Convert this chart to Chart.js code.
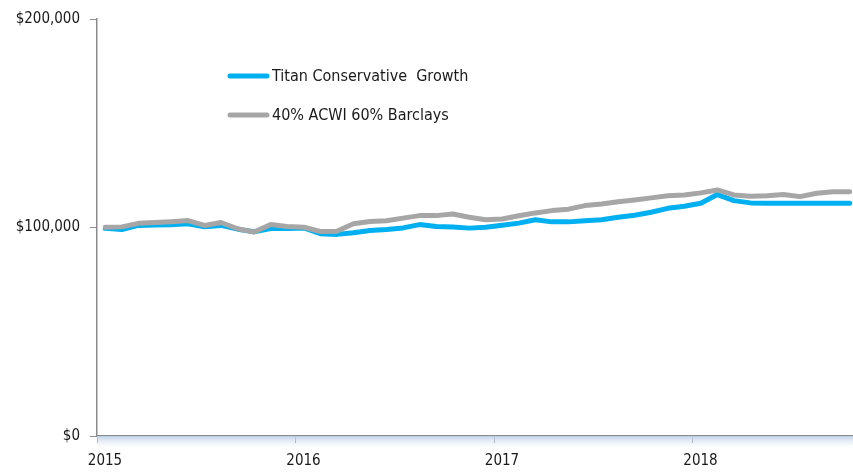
<!DOCTYPE html>
<html>
<head>
<meta charset="utf-8">
<script src="https://cdn.jsdelivr.net/npm/chart.js@4"></script>
<style>
  html, body { margin: 0; padding: 0; background: #fff; }
  #wrap { width: 853px; height: 472px; }
</style>
</head>
<body>
<div id="wrap"><canvas id="myChart"></canvas></div>
<script>
// monthly values, Jan 2015 .. Oct 2018
var titan = [99600, 99000, 101000, 101200, 101300, 101800, 100300, 101000, 99200, 98000, 99500, 99500,
             99800, 97000, 96700, 97500, 98600, 99000, 99800, 101400, 100500, 100200, 99700, 100100,
             101100, 102100, 103700, 102700, 102700, 103200, 103700, 104900, 105900, 107300, 109200, 110200,
             111600, 115800, 112900, 111800, 111600, 111600, 111600, 111600, 111600, 111600];
var bench = [100100, 100300, 102000, 102400, 102800, 103300, 101000, 102400, 99400, 97800, 101400, 100500,
             100100, 98100, 98200, 101800, 102900, 103200, 104500, 105700, 105700, 106500, 104900, 103700,
             104100, 105600, 107000, 108100, 108800, 110500, 111300, 112300, 113200, 114200, 115200, 115600,
             116600, 118000, 115600, 115000, 115200, 115800, 114800, 116400, 117100, 117200];
var seriesNames = ['Titan Conservative  Growth', '40% ACWI 60% Barclays'];
var yearLabels = ['2015', '2016', '2017', '2018'];
var yTicks = [0, 100000, 200000];

function pts(arr) {
  return arr.map(function (v, i) { return { x: i + 0.5, y: v }; });
}

var fontFam = '"DejaVu Sans Condensed", "DejaVu Sans", sans-serif';

var legendPlugin = {
  id: 'insideLegend',
  afterDatasetsDraw: function (chart) {
    var c = chart.ctx;
    c.save();
    chart.data.datasets.forEach(function (ds, i) {
      var y = 76 + i * 39;
      c.strokeStyle = ds.borderColor;
      c.lineWidth = 5;
      c.lineCap = 'round';
      c.beginPath();
      c.moveTo(230, y);
      c.lineTo(267, y);
      c.stroke();
      c.fillStyle = '#1a1a1a';
      c.font = '16px ' + fontFam;
      c.textBaseline = 'middle';
      c.fillText(ds.label, 272, y + 1);
    });
    c.restore();
  }
};

var shadePlugin = {
  id: 'axisShade',
  beforeDatasetsDraw: function (chart) {
    var c = chart.ctx, a = chart.chartArea;
    var g = c.createLinearGradient(0, a.bottom, 0, a.bottom + 14);
    g.addColorStop(0, 'rgba(185,204,230,0.9)');
    g.addColorStop(1, 'rgba(255,255,255,0)');
    c.save();
    c.fillStyle = g;
    c.fillRect(a.left, a.bottom, a.right - a.left, 14);
    c.restore();
  }
};

var ctx = document.getElementById('myChart').getContext('2d');
var myChart = new Chart(ctx, {
  type: 'line',
  data: {
    datasets: [{
      label: seriesNames[0],
      data: pts(titan),
      borderColor: '#00b0f0',
      borderWidth: 5,
      order: 1
    }, {
      label: seriesNames[1],
      data: pts(bench),
      borderColor: '#a6a6a6',
      borderWidth: 5,
      order: 0
    }]
  },
  options: {
    responsive: true,
    maintainAspectRatio: false,
    animation: false,
    layout: { padding: { top: 12, right: 0, left: 0, bottom: 0 } },
    elements: {
      point: { radius: 0 },
      line: { tension: 0, borderJoinStyle: 'round', borderCapStyle: 'round' }
    },
    plugins: {
      legend: { display: false },
      tooltip: { enabled: false }
    },
    scales: {
      x: {
        type: 'linear',
        min: 0,
        max: 45.7,
        afterBuildTicks: function (s) {
          s.ticks = yearLabels.map(function (l, i) { return { value: i * 12 }; });
        },
        afterFit: function (s) { s.height = 36; },
        grid: { drawOnChartArea: false, tickLength: 7, color: '#8c8c8c', lineWidth: 1 },
        border: { color: '#8c8c8c', width: 1.5 },
        ticks: {
          labelOffset: 8,
          padding: 9,
          color: '#1a1a1a',
          font: { family: fontFam, size: 15 },
          maxRotation: 0,
          callback: function (v) { return yearLabels[Math.round(v / 12)]; }
        }
      },
      y: {
        min: 0,
        max: 200000,
        afterBuildTicks: function (s) {
          s.ticks = yTicks.map(function (v) { return { value: v }; });
        },
        afterFit: function (s) { s.width = 97; },
        grid: { drawOnChartArea: false, tickLength: 7, color: '#8c8c8c', lineWidth: 1 },
        border: { color: '#8c8c8c', width: 1.5 },
        ticks: {
          padding: 10,
          color: '#1a1a1a',
          font: { family: fontFam, size: 15 },
          callback: function (v) { return '$' + v.toLocaleString('en-US'); }
        }
      }
    }
  },
  plugins: [shadePlugin, legendPlugin]
});
</script>
</body>
</html>
